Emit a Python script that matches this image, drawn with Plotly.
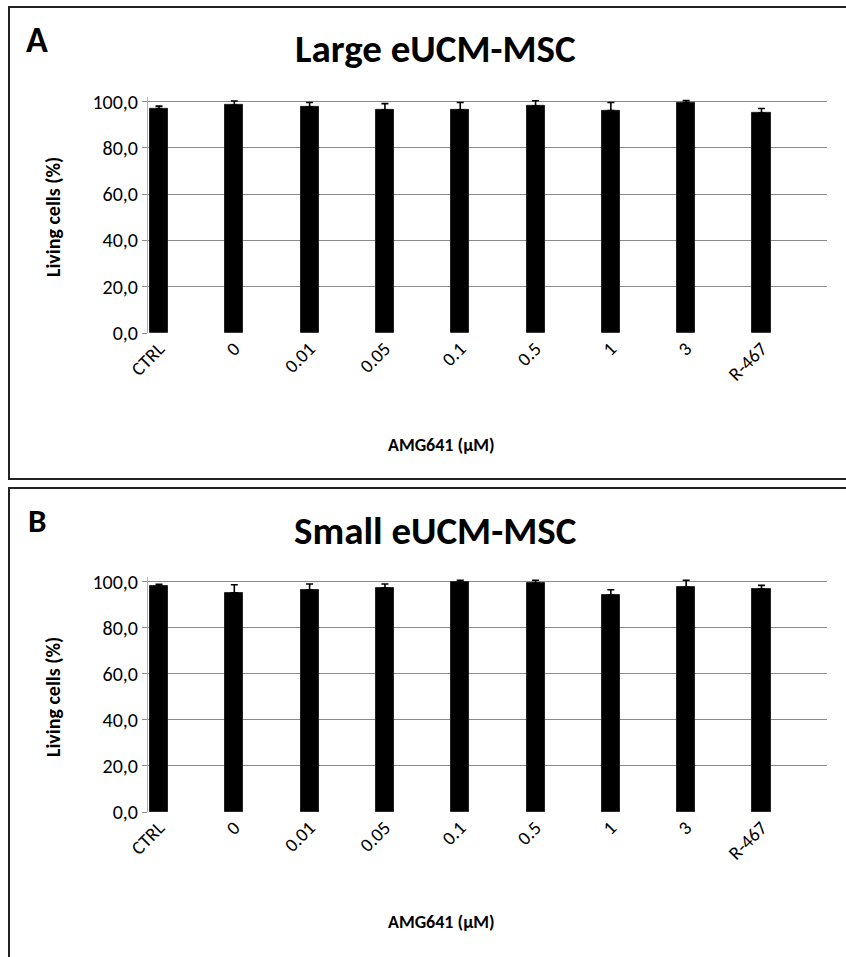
import plotly.graph_objects as go

categories = ["CTRL", "0", "0.01", "0.05", "0.1", "0.5", "1", "3", "R-467"]
large_values = [97.0, 98.4, 97.6, 96.4, 96.4, 98.0, 96.1, 99.6, 95.0]
large_errors = [1.0, 1.8, 2.0, 2.7, 3.2, 2.3, 3.5, 0.8, 2.0]
small_values = [98.1, 95.2, 96.4, 97.3, 99.7, 99.3, 94.3, 97.6, 96.8]
small_errors = [0.8, 3.5, 2.6, 1.7, 0.9, 1.3, 2.2, 3.0, 1.6]
y_ticks = [0, 20, 40, 60, 80, 100]
y_ticktext = ["0,0", "20,0", "40,0", "60,0", "80,0", "100,0"]

W, H = 846, 957
FONT = "Carlito, 'Liberation Sans Narrow', 'Open Sans', sans-serif"


def py(px):
    return 1 - px / H


def px_(x):
    return x / W


fig = go.Figure()

for i, (vals, errs) in enumerate([(large_values, large_errors), (small_values, small_errors)]):
    suffix = "" if i == 0 else "2"
    fig.add_trace(go.Bar(
        x=categories, y=vals,
        xaxis="x" + suffix, yaxis="y" + suffix,
        marker=dict(color="black", line=dict(color="#222222", width=1)),
        width=0.24,
        error_y=dict(type="data", symmetric=False, array=errs,
                     arrayminus=[0] * len(errs), color="black",
                     thickness=1.6, width=3.5),
        showlegend=False,
    ))

panels = [
    dict(zero=333.0, hundred=101.5, suffix=""),
    dict(zero=812.0, hundred=581.7, suffix="2"),
]

xdom = [px_(148), px_(827)]
xrange = [-0.146, 8.87]

layout = dict(
    template="none",
    width=W, height=H,
    margin=dict(l=0, r=0, t=0, b=0, pad=0, autoexpand=False),
    paper_bgcolor="white", plot_bgcolor="white",
    font=dict(family=FONT, color="black"),
    bargap=0,
)

for p in panels:
    unit = (p["zero"] - p["hundred"]) / 100.0
    top = p["zero"] - 102 * unit
    s = p["suffix"]
    layout["xaxis" + s] = dict(
        domain=xdom, range=xrange, anchor="y" + s,
        showgrid=False, zeroline=False, showline=False, automargin=False,
        tickangle=-45, ticks="", ticklen=0, tickfont=dict(size=19, family=FONT, color="black"),
        type="category",
    )
    layout["yaxis" + s] = dict(
        domain=[py(p["zero"]), py(top)], range=[0, 102], anchor="x" + s,
        tickvals=y_ticks, ticktext=y_ticktext, automargin=False,
        tickfont=dict(size=20, family=FONT, color="black"),
        showgrid=True, gridcolor="#8a8a8a", gridwidth=1.4,
        zeroline=False,
        showline=True, linecolor="#b0b0b0", linewidth=1,
        ticks="outside", ticklen=5, tickcolor="#8a8a8a",
    )

fig.update_layout(**layout)

# panel boxes
fig.add_shape(type="rect", xref="paper", yref="paper",
              x0=px_(9), x1=px_(860), y0=py(479), y1=py(7),
              line=dict(color="#222222", width=2))
fig.add_shape(type="rect", xref="paper", yref="paper",
              x0=px_(9), x1=px_(860), y0=py(975), y1=py(488),
              line=dict(color="#222222", width=2))

annotations = [
    dict(text="<b>A</b>", x=px_(37), y=py(40), size=36, angle=0),
    dict(text="<b>Large eUCM-MSC</b>", x=px_(435), y=py(48), size=39, angle=0),
    dict(text="<b>Living cells (%)</b>", x=px_(53), y=py(217), size=20, angle=-90),
    dict(text="<b>AMG641 (µM)</b>", x=px_(441), y=py(445), size=18, angle=0),
    dict(text="<b>B</b>", x=px_(37), y=py(521), size=33, angle=0),
    dict(text="<b>Small eUCM-MSC</b>", x=px_(435), y=py(530), size=39, angle=0),
    dict(text="<b>Living cells (%)</b>", x=px_(53), y=py(697), size=20, angle=-90),
    dict(text="<b>AMG641 (µM)</b>", x=px_(441), y=py(922), size=18, angle=0),
]
for a in annotations:
    fig.add_annotation(text=a["text"], x=a["x"], y=a["y"], xref="paper", yref="paper",
                       showarrow=False, xanchor="center", yanchor="middle", textangle=a["angle"],
                       font=dict(size=a["size"], family=FONT, color="black"))

fig.write_html("out.html", config={"displayModeBar": False},
               post_script="document.body.style.margin='0px';document.body.style.overflow='hidden';")
